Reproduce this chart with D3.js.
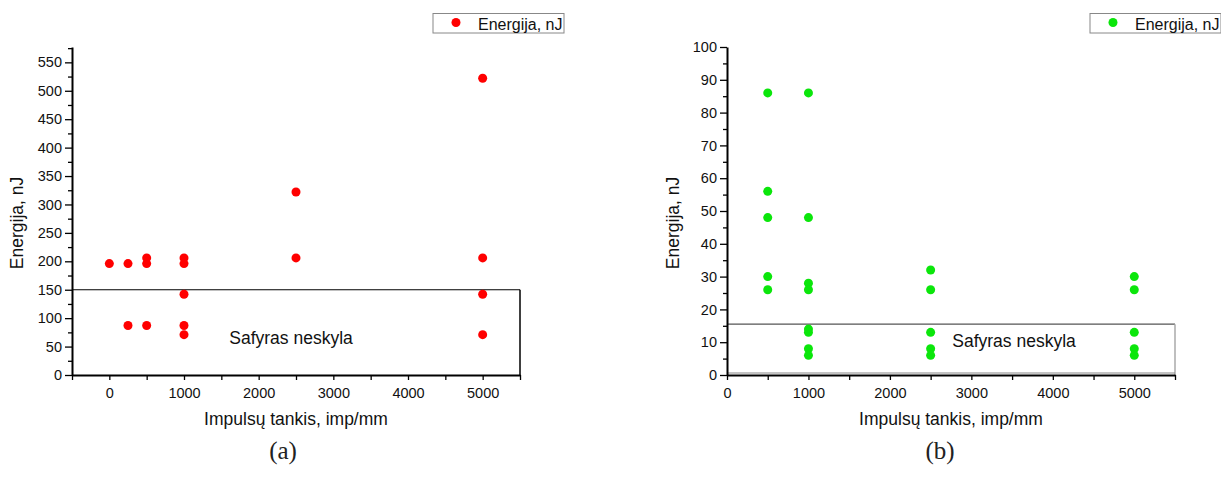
<!DOCTYPE html>
<html><head><meta charset="utf-8">
<script src="https://cdn.jsdelivr.net/npm/d3@7"></script>
<style>
body{margin:0;background:#fff;}
svg{display:block;font-family:"Liberation Sans",Arial,sans-serif;}
</style></head>
<body>
<svg id="chart" width="1221" height="488"></svg>
<script>
// Panel (a) data
const densityA = [0, 250, 250, 500, 500, 500, 1000, 1000, 1000, 1000, 1000, 2500, 2500, 5000, 5000, 5000, 5000];
const energyA  = [196, 196, 87, 206, 196, 87, 206, 196, 142, 87, 71, 322, 206, 522, 206, 142, 71];
// Panel (b) data
const densityB = [500, 500, 500, 500, 500, 1000, 1000, 1000, 1000, 1000, 1000, 1000, 1000, 2500, 2500, 2500, 2500, 2500, 5000, 5000, 5000, 5000, 5000];
const energyB  = [86, 56, 48, 30, 26, 86, 48, 28, 26, 14, 13, 8, 6, 32, 26, 13, 8, 6, 30, 26, 13, 8, 6];
// Ticks
const xTickLabels = [0, 1000, 2000, 3000, 4000, 5000];
const yTicksA = [0, 50, 100, 150, 200, 250, 300, 350, 400, 450, 500, 550];
const yTicksB = [0, 10, 20, 30, 40, 50, 60, 70, 80, 90, 100];
const legendLabel = "Energija, nJ";
const xTitle = "Impulsų tankis, imp/mm";
const yTitle = "Energija, nJ";
const boxLabel = "Safyras neskyla";
const thresholdA = 150;
const thresholdB = 15.5;

const svg = d3.select("#chart");

function panel(cfg) {
  const g = svg.append("g");
  const x = d3.scaleLinear().domain(cfg.xDomain).range(cfg.xRange);
  const y = d3.scaleLinear().domain(cfg.yDomain).range([375, 47]);

  // box region
  g.append("line").attr("x1", x(cfg.xDomain[0])).attr("x2", x(cfg.xDomain[1]))
    .attr("y1", y(cfg.threshold)).attr("y2", y(cfg.threshold))
    .attr("stroke", cfg.boxColor).attr("stroke-width", 1.2);
  g.append("line").attr("x1", x(cfg.xDomain[1])).attr("x2", x(cfg.xDomain[1]))
    .attr("y1", y(cfg.threshold)).attr("y2", y(0))
    .attr("stroke", cfg.boxRight).attr("stroke-width", 1.5);
  if (cfg.boxBottom) {
    g.append("line").attr("x1", x(cfg.xDomain[0])).attr("x2", x(cfg.xDomain[1]))
      .attr("y1", y(0) - 2).attr("y2", y(0) - 2)
      .attr("stroke", "#888").attr("stroke-width", 1.2);
  }

  // x axis
  const xMinor = d3.range(cfg.xDomain[0], cfg.xDomain[1] + 1, 500);
  const xa = g.append("g").attr("transform", `translate(0,${y(0)})`)
    .call(d3.axisBottom(x).tickValues(xMinor).tickSize(5).tickSizeOuter(0)
      .tickFormat(d => xTickLabels.includes(d) ? d : ""));
  xa.attr("font-size", null).attr("font-family", null);
  xa.select(".domain").attr("stroke-width", 2).attr("stroke", "#000");
  xa.selectAll(".tick line").attr("stroke-width", 1.3);
  xa.selectAll(".tick text").style("font-size", "14.5px").attr("fill", "#111")
    .style("font-family", "'Liberation Sans', Arial").attr("dy", "0").attr("y", 23);

  // y axis
  const step = cfg.yTicks[1] - cfg.yTicks[0];
  const yMinor = d3.range(0, cfg.yDomain[1] + 0.001, step / 2).filter(v => !cfg.yTicks.includes(v));
  const ya = g.append("g").attr("transform", `translate(${x(cfg.xDomain[0])},0)`)
    .call(d3.axisLeft(y).tickValues(cfg.yTicks).tickSize(7).tickSizeOuter(0).tickPadding(3));
  ya.attr("font-size", null).attr("font-family", null);
  ya.select(".domain").attr("stroke-width", 2).attr("stroke", "#000");
  ya.selectAll(".tick line").attr("stroke-width", 1.3);
  ya.selectAll(".tick text").style("font-size", "14.5px").attr("fill", "#111")
    .style("font-family", "'Liberation Sans', Arial");
  const ym = g.append("g").attr("transform", `translate(${x(cfg.xDomain[0])},0)`)
    .call(d3.axisLeft(y).tickValues(yMinor).tickSize(4).tickFormat(""));
  ym.select(".domain").remove();
  ym.selectAll(".tick line").attr("stroke-width", 1.3);

  // points
  g.selectAll("circle.pt").data(cfg.xs.map((d, i) => [d, cfg.ys[i]])).join("circle")
    .attr("class", "pt")
    .attr("cx", d => x(d[0])).attr("cy", d => y(d[1])).attr("r", 4.5)
    .attr("fill", cfg.color);

  // box label
  g.append("text").attr("x", cfg.labelPos[0]).attr("y", cfg.labelPos[1])
    .attr("text-anchor", "middle").attr("font-size", "17.5px").attr("fill", "#111")
    .text(boxLabel);

  // axis titles
  g.append("text").attr("x", cfg.xTitleX).attr("y", 425).attr("text-anchor", "middle")
    .attr("font-size", "17.5px").attr("fill", "#111").text(xTitle);
  g.append("text").attr("transform", `translate(${cfg.yTitleX},223) rotate(-90)`)
    .attr("text-anchor", "middle").attr("font-size", "17.5px").attr("fill", "#111").text(yTitle);

  // legend
  g.append("rect").attr("x", cfg.legX).attr("y", 13.5).attr("width", 131).attr("height", 19.5)
    .attr("fill", "#fff").attr("stroke", "#888").attr("stroke-width", 1);
  g.append("circle").attr("cx", cfg.legX + 23).attr("cy", 22.5).attr("r", 4.5).attr("fill", cfg.color);
  g.append("text").attr("x", cfg.legX + 45).attr("y", 29.5).attr("font-size", "16px")
    .attr("fill", "#111").text(legendLabel);

  // caption
  g.append("text").attr("x", cfg.capX).attr("y", 459).attr("text-anchor", "middle")
    .attr("font-family", "Liberation Serif, DejaVu Serif, serif").attr("font-size", "25px")
    .attr("fill", "#222").text(cfg.caption);
}

panel({
  xDomain: [-500, 5500], xRange: [72, 520], yDomain: [0, 577], yTicks: yTicksA,
  xs: densityA, ys: energyA, color: "#ff0000", threshold: thresholdA,
  boxColor: "#000", boxRight: "#000", boxBottom: false,
  labelPos: [291, 344], xTitleX: 296, yTitleX: 23, legX: 433, capX: 283, caption: "(a)"
});
panel({
  xDomain: [0, 5500], xRange: [727, 1175], yDomain: [0, 100], yTicks: yTicksB,
  xs: densityB, ys: energyB, color: "#0be60b", threshold: thresholdB,
  boxColor: "#555", boxRight: "#aaa", boxBottom: true,
  labelPos: [1014, 347], xTitleX: 951, yTitleX: 679, legX: 1090, capX: 940, caption: "(b)"
});
</script>
</body></html>
